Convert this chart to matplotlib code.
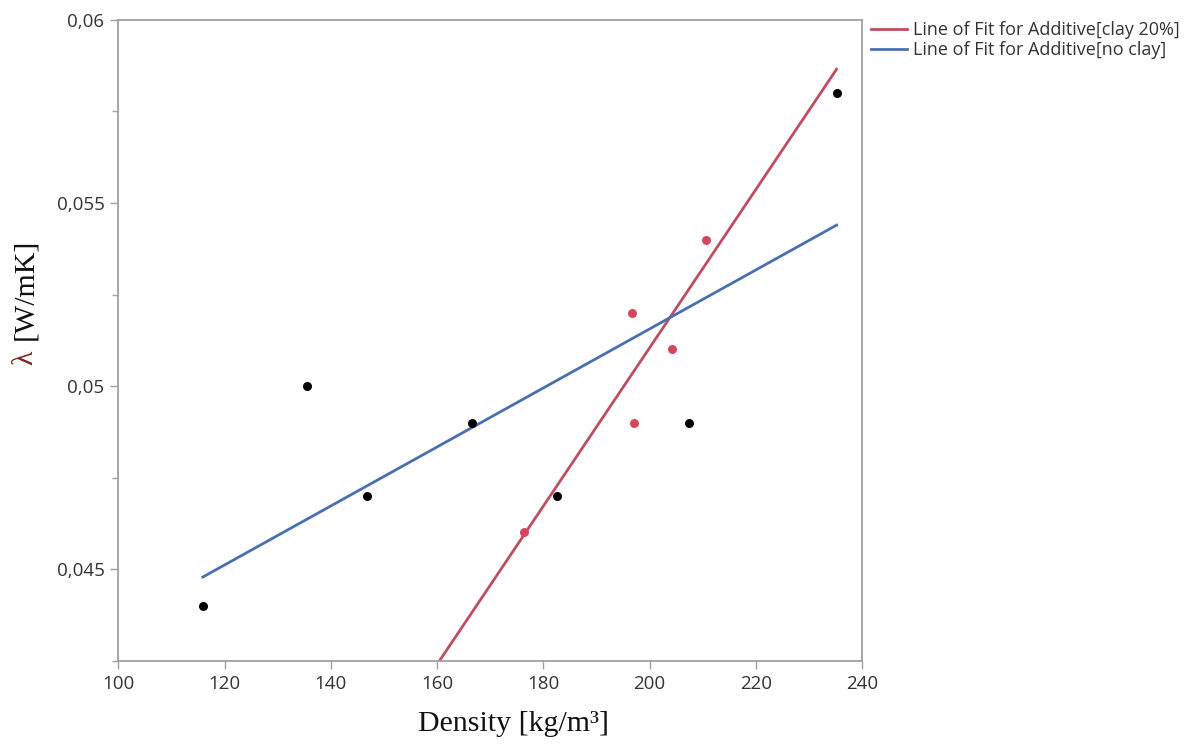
import numpy as np
import matplotlib
matplotlib.use("Agg")
import matplotlib.pyplot as plt
from matplotlib.ticker import FuncFormatter, MultipleLocator

# density [kg/m3] and thermal conductivity [W/mK] per sample
no_clay_density = [115.9, 135.5, 146.9, 166.6, 182.6, 207.4, 235.2]
no_clay_lambda = [0.044, 0.050, 0.047, 0.049, 0.047, 0.049, 0.058]
clay_density = [176.4, 196.7, 197.0, 204.3, 210.7]
clay_lambda = [0.046, 0.052, 0.049, 0.051, 0.054]

RED_LINE = "#bf4d60"
RED_PT = "#d4475b"
BLUE = "#4a6fb0"
GRAY = "#a0a0a0"

fig = plt.figure(figsize=(11.94, 7.45), dpi=100)
ax = fig.add_axes([0.0991, 0.1128, 0.6229, 0.8604])

# lines of fit span the full density range of the data
xs = np.array([min(no_clay_density + clay_density), max(no_clay_density + clay_density)])
b_clay = np.polyfit(clay_density, clay_lambda, 1)
b_none = np.polyfit(no_clay_density, no_clay_lambda, 1)
ax.plot(xs, np.polyval(b_clay, xs), color=RED_LINE, lw=2,
        label="Line of Fit for Additive[clay 20%]", zorder=2)
ax.plot(xs, np.polyval(b_none, xs), color=BLUE, lw=2,
        label="Line of Fit for Additive[no clay]", zorder=2)

ax.scatter(no_clay_density, no_clay_lambda, s=42, color="black", zorder=3, linewidths=0)
ax.scatter(clay_density, clay_lambda, s=42, color=RED_PT, zorder=3, linewidths=0)

ax.set_xlim(100, 240)
ax.set_ylim(0.04249, 0.06)
ax.xaxis.set_major_locator(MultipleLocator(20))
ax.yaxis.set_major_locator(MultipleLocator(0.005))
ax.yaxis.set_minor_locator(MultipleLocator(0.0025))
ax.yaxis.set_major_formatter(FuncFormatter(lambda v, _: f"{v:g}".replace(".", ",")))

for s in ax.spines.values():
    s.set_color(GRAY)
    s.set_linewidth(1.3)
ax.tick_params(axis="both", which="major", length=6, width=1, color=GRAY,
               labelsize=13.5, labelcolor="#333333", pad=4)
ax.tick_params(axis="y", which="minor", length=4, width=1, color=GRAY)
for lab in ax.get_xticklabels() + ax.get_yticklabels():
    lab.set_fontfamily("Open Sans")

fig.text(0.430, 0.019, "Density [kg/m\u00b3]", family="Liberation Serif", fontsize=21.5,
         color="#111111", ha="center", va="baseline")
fig.text(0.021, 0.520, "\u03bb", family="Liberation Serif", fontsize=21.5,
         color="#7a2a1e", rotation=90, ha="center", va="center")
fig.text(0.021, 0.612, "[W/mK]", family="Liberation Serif", fontsize=21.5,
         color="#111111", rotation=90, ha="center", va="center")

leg = ax.legend(loc="upper left", bbox_to_anchor=(1.0, 1.012), frameon=False,
                prop={"family": "Open Sans", "size": 13}, handlelength=2.0,
                handletextpad=0.3, labelspacing=0.1, borderaxespad=0.1)
for t in leg.get_texts():
    t.set_color("#333333")

fig.savefig("out.png", dpi=100)
